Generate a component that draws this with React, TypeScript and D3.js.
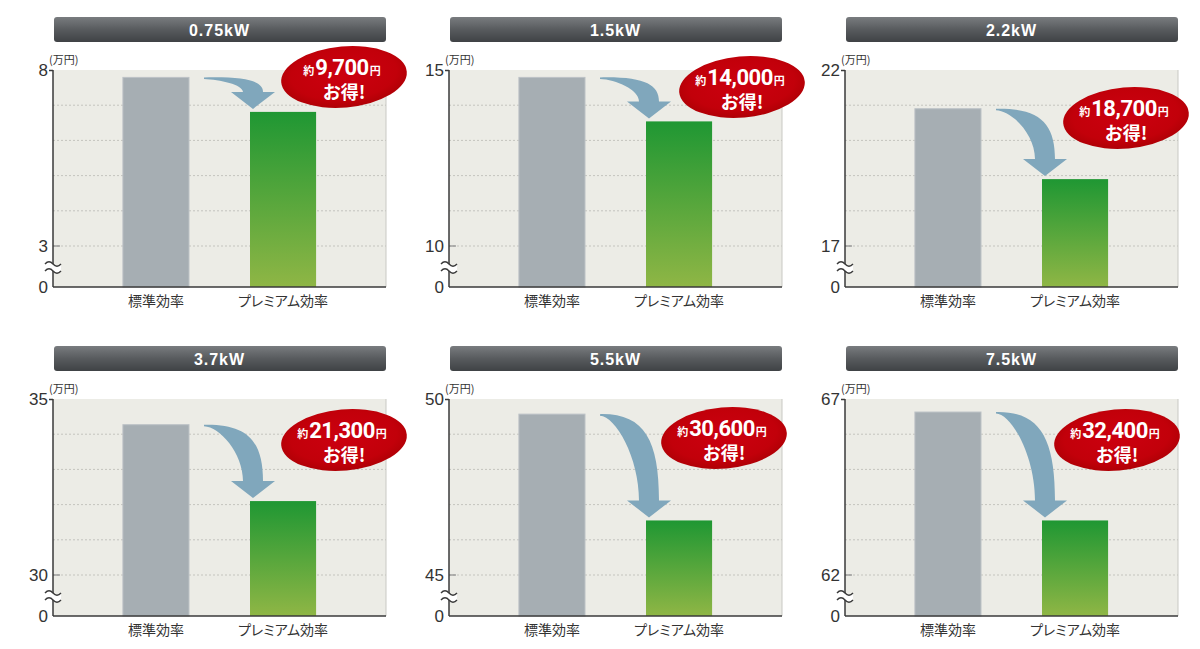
import { scaleBand, scaleLinear, range } from "d3";
import type { ReactElement } from "react";

// motor capacity panels
const CAPACITIES = ["0.75kW", "1.5kW", "2.2kW", "3.7kW", "5.5kW", "7.5kW"];
const CATEGORIES = ["標準効率", "プレミアム効率"];
const AXIS_LOW = [3, 10, 17, 30, 45, 62];
const AXIS_HIGH = [8, 15, 22, 35, 50, 67];
// 万円
const STANDARD = [7.79, 14.79, 20.9, 34.27, 49.57, 66.63];
const PREMIUM = [6.81, 13.54, 18.9, 32.1, 46.55, 63.55];
const SAVINGS = ["9,700", "14,000", "18,700", "21,300", "30,600", "32,400"];

// layout
const COL_X = [53, 449, 845];
const ROW_TOP = [70, 399];
const PW = 333;
const PH = 217;
const BREAK_H = 41;
// bubble centre offsets from the plot's top-left corner
const BUBBLE_DX = [291, 293, 281, 291, 275, 272];
const BUBBLE_DY = [7, 17, 48, 41, 39, 41];

const JP = "'Noto Sans CJK JP', 'Noto Sans', sans-serif";
const LATIN = "'Liberation Sans', Arial, sans-serif";

const arrowPath = (sx: number, sy: number, tx: number, ty: number): string => {
  const hh = 17;
  const hw = 22;
  const bh = 10;
  const by = ty - hh;
  const ox = tx + bh;
  const ix = tx - bh;
  const d = by - sy;
  return [
    `M${sx},${sy}`,
    `C${sx + (ox - sx) * 0.75},${sy - 1} ${ox},${sy + d * 0.3} ${ox},${by}`,
    `L${tx + hw},${by}`,
    `L${tx},${ty}`,
    `L${tx - hw},${by}`,
    `L${ix},${by}`,
    `C${ix},${by - d * 0.5} ${sx + (ix - sx) * 0.4},${sy + 2} ${sx},${sy + 1.5}`,
    "Z",
  ].join(" ");
};

const Panel = ({ i }: { i: number }): ReactElement => {
  const x0 = COL_X[i % 3];
  const y0 = ROW_TOP[Math.floor(i / 3)];
  const lo = AXIS_LOW[i];
  const hi = AXIS_HIGH[i];

  const x = scaleBand<string>().domain(CATEGORIES).range([0, PW]).paddingInner(0.48).paddingOuter(0.55);
  const y = scaleLinear().domain([0, lo, hi]).range([PH, PH - BREAK_H, 0]);
  const bw = x.bandwidth();

  const gx = x(CATEGORIES[0]) ?? 0;
  const px = x(CATEGORIES[1]) ?? 0;
  const gTop = y(STANDARD[i]);
  const pTop = y(PREMIUM[i]);

  const bx = BUBBLE_DX[i];
  const by = BUBBLE_DY[i];
  const breakY = PH - 20;

  return (
    <g transform={`translate(${x0},${y0})`}>
      {/* title bar */}
      <rect x={1} y={-53} width={PW - 1} height={25} rx={3} fill="url(#hdr)" />
      <text
        x={PW / 2}
        y={-34.5}
        textAnchor="middle"
        fill="#fff"
        fontFamily={LATIN}
        fontWeight="bold"
        fontSize={16}
        letterSpacing={1}
      >
        {CAPACITIES[i]}
      </text>

      {/* plot background */}
      <rect x={0} y={0} width={PW} height={PH} fill="#ecece6" />
      <line x1={PW} x2={PW} y1={0} y2={PH} stroke="#c9c9c4" />

      {range(lo, hi).map((v) => (
        <line
          key={v}
          x1={0}
          x2={PW}
          y1={y(v)}
          y2={y(v)}
          stroke="#c4c4be"
          strokeDasharray="2,2"
        />
      ))}
      <line x1={0} x2={7} y1={y(lo)} y2={y(lo)} stroke="#8c8c8c" strokeWidth={1.2} />

      {/* bars */}
      <rect x={gx} y={gTop} width={bw} height={PH - gTop} fill="#a6aeb3" stroke="#bcc2c6" strokeWidth={1} />
      <rect x={px} y={pTop} width={bw} height={PH - pTop} fill="url(#grn)" />

      {/* arrow */}
      <path d={arrowPath(gx + bw + 15, gTop, px + 3, pTop - 3)} fill="#80a7bc" />

      {/* axes */}
      <line x1={0} x2={0} y1={0} y2={PH} stroke="#3a3a3a" strokeWidth={1.5} />
      <line x1={-4} x2={0} y1={0.5} y2={0.5} stroke="#3a3a3a" strokeWidth={1.5} />
      <line x1={0} x2={PW} y1={PH} y2={PH} stroke="#3a3a3a" strokeWidth={1.5} />

      {/* axis break */}
      <path
        d={`M-8,${breakY - 3} q4,-4.5 8,0 t8,0 L8,${breakY + 4} q-4,4.5 -8,0 t-8,0 Z`}
        fill="#fff"
      />
      <path d={`M-8,${breakY - 3} q4,-4.5 8,0 t8,0`} fill="none" stroke="#3a3a3a" strokeWidth={1.4} />
      <path d={`M-8,${breakY + 4} q4,-4.5 8,0 t8,0`} fill="none" stroke="#3a3a3a" strokeWidth={1.4} />

      {/* tick labels */}
      {[0, lo, hi].map((v) => (
        <text
          key={v}
          x={-5}
          y={y(v) + 6}
          textAnchor="end"
          fill="#333"
          fontFamily={LATIN}
          fontSize={17}
        >
          {v}
        </text>
      ))}
      <text x={-4} y={-6} fill="#333" fontFamily={JP} fontSize={11}>
        (万円)
      </text>

      {/* category labels */}
      {CATEGORIES.map((c) => (
        <text
          key={c}
          x={(x(c) ?? 0) + bw / 2}
          y={PH + 19}
          textAnchor="middle"
          fill="#333"
          fontFamily={JP}
          fontSize={14}
          style={{ fontFeatureSettings: "'palt'" }}
        >
          {c}
        </text>
      ))}

      {/* savings bubble */}
      <ellipse
        cx={bx}
        cy={by}
        rx={63}
        ry={30.5}
        fill="url(#red)"
        transform={`rotate(-5 ${bx} ${by})`}
      />
      <text x={bx - 2} y={by - 2} textAnchor="middle" fill="#fff" fontWeight="bold">
        <tspan fontFamily={JP} fontSize={11}>約</tspan>
        <tspan fontFamily="Roboto, sans-serif" fontSize={22} dx={1} letterSpacing={-0.5}>
          {SAVINGS[i]}
        </tspan>
        <tspan fontFamily={JP} fontSize={11} dx={1}>円</tspan>
      </text>
      <text x={bx} y={by + 22} textAnchor="middle" fill="#fff" fontWeight="bold" fontFamily={JP} fontSize={18}>
        お得!
      </text>
    </g>
  );
};

export default function App(): ReactElement {
  return (
    <svg
      width={1200}
      height={649}
      viewBox="0 0 1200 649"
      style={{ position: "absolute", left: 0, top: 0, background: "#fff" }}
    >
      <defs>
        <linearGradient id="hdr" x1="0" y1="0" x2="0" y2="1">
          <stop offset="0" stopColor="#797c7f" />
          <stop offset="0.5" stopColor="#585b5e" />
          <stop offset="1" stopColor="#3f4245" />
        </linearGradient>
        <linearGradient id="grn" x1="0" y1="0" x2="0" y2="1">
          <stop offset="0" stopColor="#1f9733" />
          <stop offset="1" stopColor="#8fb645" />
        </linearGradient>
        <radialGradient id="red" cx="0.5" cy="0.45" r="0.6">
          <stop offset="0" stopColor="#cc0010" />
          <stop offset="0.7" stopColor="#c2000a" />
          <stop offset="1" stopColor="#a80004" />
        </radialGradient>
      </defs>
      {CAPACITIES.map((_, i) => (
        <Panel key={i} i={i} />
      ))}
    </svg>
  );
}
